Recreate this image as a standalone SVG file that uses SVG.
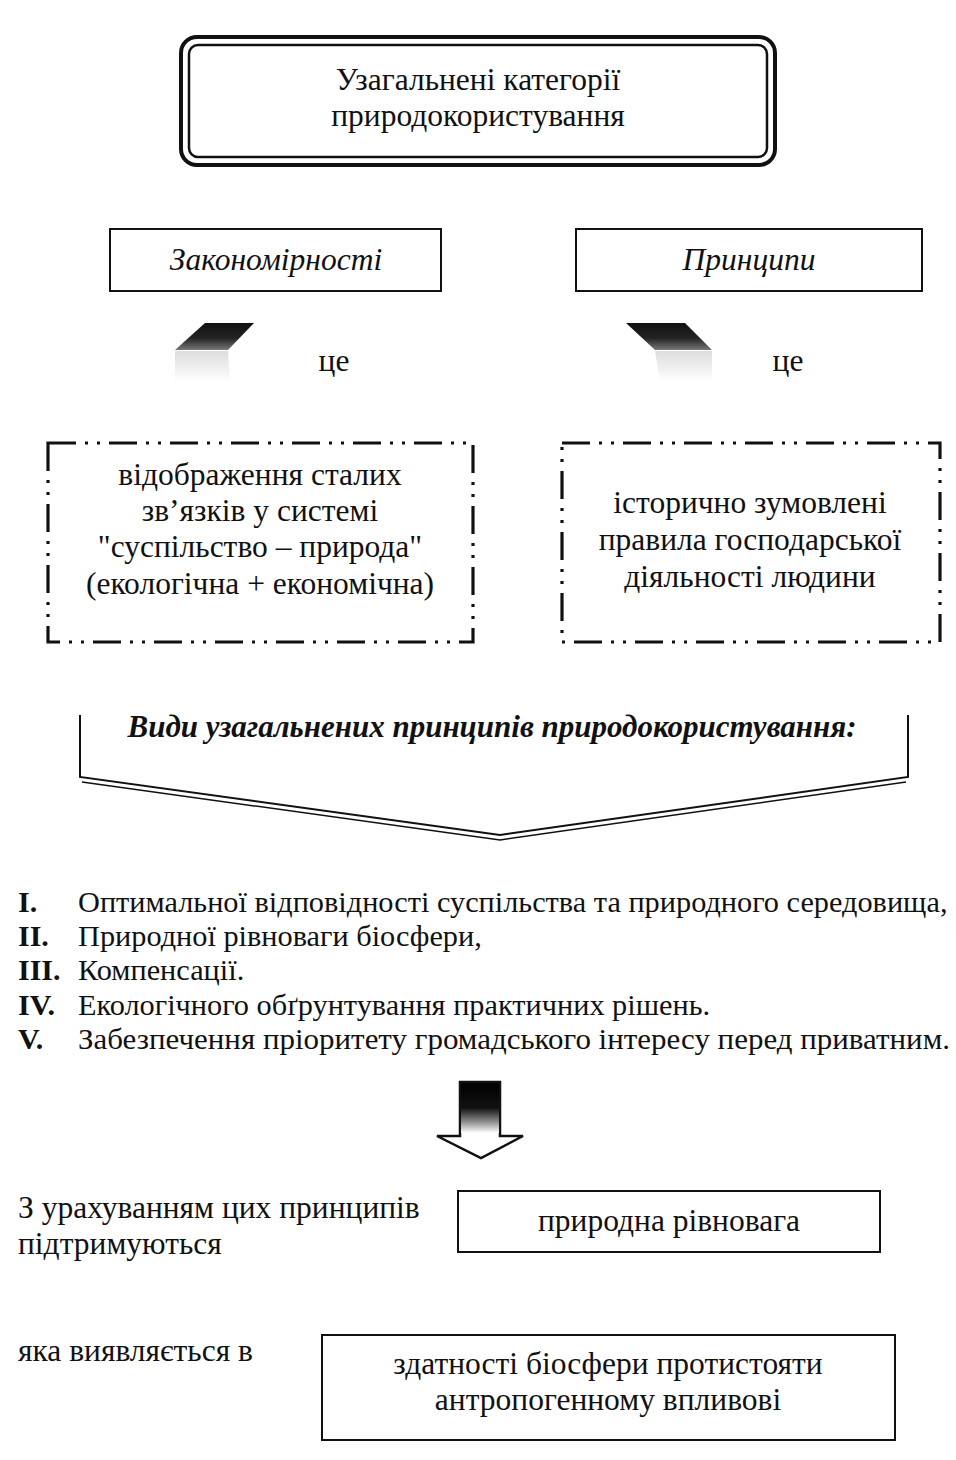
<svg xmlns="http://www.w3.org/2000/svg" width="956" height="1460" viewBox="0 0 956 1460">
<defs>
<style>
text{font-family:"Liberation Serif","Times New Roman",serif;fill:#111;}
.t{font-size:31.5px;}
.c{text-anchor:middle;}
.it{font-style:italic;}
.bi{font-style:italic;font-weight:bold;font-size:31px;}
.num{font-weight:bold;font-size:30px;}
.li{font-size:30.3px;}
.lb{font-size:31.5px;}
.box{fill:#fff;stroke:#111;stroke-width:2;}
.dash{fill:none;stroke:#111;stroke-width:3.2;stroke-dasharray:28 9 3 9 3 9;}
.ln{fill:none;stroke:#111;stroke-width:2;}
</style>
<linearGradient id="pg" x1="0" y1="0" x2="0" y2="1">
<stop offset="0" stop-color="#111"/>
<stop offset="0.55" stop-color="#222"/>
<stop offset="1" stop-color="#777"/>
</linearGradient>
<linearGradient id="fade" x1="0" y1="0" x2="0" y2="1">
<stop offset="0" stop-color="#bbb"/>
<stop offset="1" stop-color="#fff"/>
</linearGradient>
<linearGradient id="shaft" x1="0" y1="0" x2="0" y2="1">
<stop offset="0" stop-color="#000"/>
<stop offset="0.5" stop-color="#111"/>
<stop offset="0.8" stop-color="#999"/>
<stop offset="1" stop-color="#fff"/>
</linearGradient>
</defs>
<rect width="956" height="1460" fill="#fff"/>

<g id="node-top">
<rect x="181" y="37" width="594" height="128" rx="16" fill="#fff" stroke="#111" stroke-width="4"/>
<rect x="189" y="45" width="578" height="112" rx="9" fill="none" stroke="#111" stroke-width="2.5"/>
<text class="t c" x="478" y="90">Узагальнені категорії</text>
<text class="t c" x="478" y="126">природокористування</text>
</g>

<g id="node-zakonomirnosti">
<rect class="box" x="110" y="229" width="331" height="62"/>
<text class="t c it" x="276" y="270">Закономірності</text>
</g>

<g id="node-pryntsypy">
<rect class="box" x="576" y="229" width="346" height="62"/>
<text class="t c it" x="749" y="270">Принципи</text>
</g>

<g id="label-tse-left"><text class="t c" x="334" y="371">це</text></g>
<g id="label-tse-right"><text class="t c" x="788" y="371">це</text></g>

<g id="node-def-left">
<rect class="dash" x="48" y="443" width="425" height="199"/>
<text class="t c" x="260" y="485">відображення сталих</text>
<text class="t c" x="260" y="521">зв’язків у системі</text>
<text class="t c" x="260" y="557">"суспільство – природа"</text>
<text class="t c" x="260" y="594">(екологічна + економічна)</text>
</g>

<g id="node-def-right">
<rect class="dash" x="562" y="443" width="378" height="199"/>
<text class="t c" x="750" y="513">історично зумовлені</text>
<text class="t c" x="750" y="550">правила господарської</text>
<text class="t c" x="750" y="587">діяльності людини</text>
</g>

<g id="node-banner">
<path class="ln" d="M80,715 V777 L500,835 L908,777 V715"/>
<path fill="none" stroke="#111" stroke-width="1.5" d="M82,782 L500,840 L906,782"/>
<text class="bi c" x="492" y="737">Види узагальнених принципів природокористування:</text>
</g>

<g id="node-list">
<text class="num" x="18" y="912">I.</text>
<text class="li" x="78" y="912">Оптимальної відповідності суспільства та природного середовища,</text>
<text class="num" x="18" y="946">II.</text>
<text class="li" x="78" y="946">Природної рівноваги біосфери,</text>
<text class="num" x="18" y="980">III.</text>
<text class="li" x="78" y="980">Компенсації.</text>
<text class="num" x="18" y="1015">IV.</text>
<text class="li" x="78" y="1015">Екологічного обґрунтування практичних рішень.</text>
<text class="num" x="18" y="1049">V.</text>
<text class="li" x="78" y="1049" textLength="872" lengthAdjust="spacingAndGlyphs">Забезпечення пріоритету громадського інтересу перед приватним.</text>
</g>

<g id="label-support">
<text class="lb" x="18" y="1218">З урахуванням цих принципів</text>
<text class="lb" x="18" y="1254">підтримуються</text>
</g>

<g id="node-rivnovaha">
<rect class="box" x="458" y="1191" width="422" height="61"/>
<text class="t c" x="669" y="1231">природна рівновага</text>
</g>

<g id="label-yaka">
<text class="lb" x="18" y="1361">яка виявляється в</text>
</g>

<g id="node-zdatnist">
<rect class="box" x="322" y="1335" width="573" height="105"/>
<text class="t c" x="608" y="1374">здатності біосфери протистояти</text>
<text class="t c" x="608" y="1410">антропогенному впливові</text>
</g>

<g id="connectors">
<polygon points="205,323 254,323 228,350 175,350" fill="url(#pg)"/>
<polygon points="175,351 228,351 230,382 175,382" fill="url(#fade)" opacity="0.5"/>
<polygon points="626,323 685,323 712,350 655,350" fill="url(#pg)"/>
<polygon points="655,351 712,351 712,382 660,382" fill="url(#fade)" opacity="0.5"/>
<path d="M460,1082 H500 V1136 H523 L481,1158 L437,1136 H460 Z" fill="#fff" stroke="#111" stroke-width="2.5" stroke-linejoin="miter"/>
<rect x="461" y="1083" width="38" height="50" fill="url(#shaft)"/>
</g>
</svg>
